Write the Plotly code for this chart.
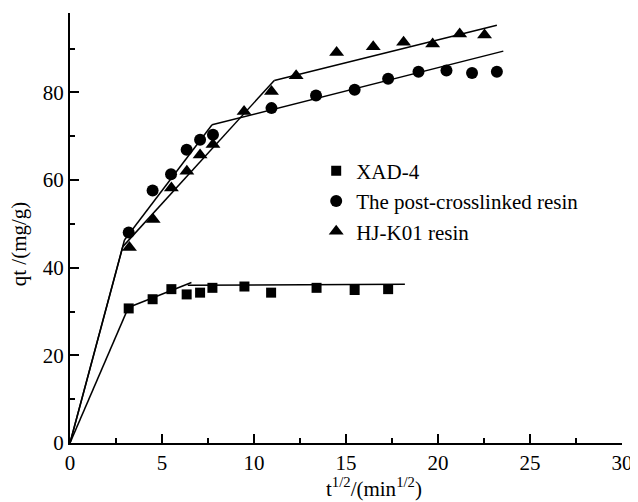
import plotly.graph_objects as go

# ---- data ----
xad_x = [3.19, 4.49, 5.51, 6.34, 7.07, 7.74, 9.48, 10.93, 13.4, 15.47, 17.29]
xad_y = [30.7, 32.8, 35.1, 33.9, 34.3, 35.4, 35.7, 34.3, 35.4, 34.9, 35.1]

pc_x = [3.19, 4.49, 5.49, 6.34, 7.07, 7.77, 10.95, 13.37, 15.47, 17.29, 18.94, 20.46, 21.85, 23.2]
pc_y = [48.0, 57.6, 61.3, 66.9, 69.2, 70.3, 76.4, 79.3, 80.6, 83.1, 84.7, 85.0, 84.4, 84.7]

hj_x = [3.23, 4.52, 5.51, 6.35, 7.07, 7.77, 9.46, 10.95, 12.29, 14.49, 16.48, 18.13, 19.71, 21.18, 22.53]
hj_y = [44.6, 51.0, 58.2, 62.0, 65.7, 68.1, 75.6, 80.2, 83.8, 89.1, 90.4, 91.4, 91.0, 93.3, 93.1]

# piecewise linear fits (intra-particle diffusion segments)
xad_fit = [([0, 3.1], [0, 30.2]), ([3.1, 6.6], [30.8, 36.6]), ([6.4, 18.2], [36.0, 36.2])]
pc_fit = [([0, 2.96], [0, 46.3]), ([2.96, 7.72], [46.3, 72.6]), ([7.72, 23.55], [72.6, 89.4])]
hj_fit = [([0, 2.87], [0, 44.8]), ([2.87, 11.1], [44.8, 82.7]), ([11.1, 23.2], [82.7, 95.3])]

x_ticks = [0, 5, 10, 15, 20, 25, 30]
y_ticks = [0, 20, 40, 60, 80]

FONT = "Liberation Serif"

fig = go.Figure()

for fits in (xad_fit, pc_fit, hj_fit):
    for xs, ys in fits:
        fig.add_trace(go.Scatter(x=xs, y=ys, mode="lines",
                                 line=dict(color="black", width=1.5),
                                 showlegend=False, hoverinfo="skip"))

fig.add_trace(go.Scatter(x=xad_x, y=xad_y, mode="markers", name="XAD-4",
                         marker=dict(symbol="square", size=10, color="black")))
fig.add_trace(go.Scatter(x=pc_x, y=pc_y, mode="markers", name="The post-crosslinked resin",
                         marker=dict(symbol="circle", size=12, color="black")))
fig.add_trace(go.Scatter(x=hj_x, y=hj_y, mode="markers", name="HJ-K01 resin",
                         marker=dict(symbol="triangle-up", size=13, color="black")))

axis_common = dict(
    showgrid=False, zeroline=False, showline=True, linecolor="black", linewidth=2,
    ticks="inside", ticklen=9, tickwidth=2, tickcolor="black",
    tickfont=dict(family=FONT, size=21, color="black"),
)

fig.update_xaxes(range=[0, 30], tickvals=x_ticks, ticktext=[str(v) for v in x_ticks],
                 minor=dict(ticks="inside", ticklen=5, tickwidth=2, tickcolor="black", dtick=2.5),
                 **axis_common)
fig.update_yaxes(range=[0, 98.1], tickvals=y_ticks, ticktext=[str(v) for v in y_ticks],
                 minor=dict(ticks="inside", ticklen=5, tickwidth=2, tickcolor="black", dtick=10),
                 **axis_common)

fig.add_annotation(text="t<sup>1/2</sup>/(min<sup>1/2</sup>)", xref="paper", yref="paper",
                   x=0.551, y=-0.103, xanchor="center", yanchor="middle", showarrow=False,
                   font=dict(family=FONT, size=21, color="black"))
fig.add_annotation(text="qt /(mg/g)", xref="paper", yref="paper",
                   x=-0.091, y=0.464, xanchor="center", yanchor="middle", showarrow=False,
                   textangle=-90, font=dict(family=FONT, size=21, color="black"))

# page body has an 8px margin: size the figure so the plot area lands where the reference has it
fig.update_layout(
    width=630, height=494,
    margin=dict(l=62, r=11, t=5, b=59),
    paper_bgcolor="white", plot_bgcolor="white",
    font=dict(family=FONT, color="black"),
    legend=dict(x=0.446, y=0.68, xanchor="left", yanchor="top",
                font=dict(family=FONT, size=21, color="black"),
                bgcolor="rgba(0,0,0,0)", itemsizing="trace", tracegroupgap=0),
)

fig.write_html("out.html")
